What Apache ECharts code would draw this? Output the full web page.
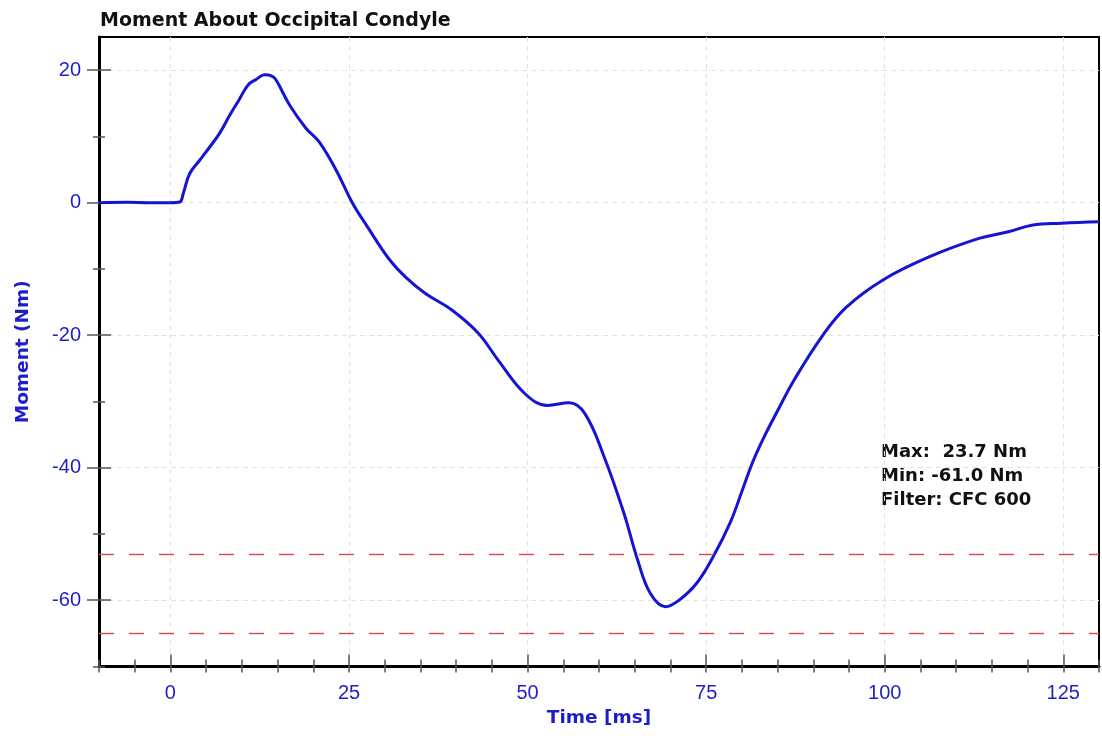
<!DOCTYPE html>
<html>
<head>
<meta charset="utf-8">
<script src="https://cdn.jsdelivr.net/npm/echarts@6/dist/echarts.min.js"></script>
<style>html,body{margin:0;padding:0;background:#fff;}#c{width:1102px;height:738px;}</style>
</head>
<body>
<div id="c"></div>
<script>
const titleText = 'Moment About Occipital Condyle';
const xName = 'Time [ms]';
const yName = 'Moment (Nm)';
const timeMs = [-10, -6, -3, 0, 1.3, 1.8, 2.7, 4.1, 5.5, 6.9, 8.3, 9.6, 10.9, 12.0, 13.2, 14.2, 14.8, 16.7, 19.0, 20.8, 23.2, 25.5, 27.5, 30.6, 33.0, 35.7, 39.4, 43.1, 45.9, 49.6, 52.8, 55.8, 58.0, 60.7, 63.5, 65.4, 67.2, 69.3, 71.2, 73.7, 76.0, 78.4, 80.0, 81.5, 83.0, 85.0, 87.4, 91.4, 94.6, 99.7, 106.2, 113.2, 117.3, 120.6, 124.8, 130];
const moment = [0, 0.05, 0, 0, 0.1, 1.4, 4.4, 6.4, 8.4, 10.5, 13.2, 15.5, 17.8, 18.6, 19.3, 19.1, 18.5, 14.7, 11.2, 9.2, 4.9, -0.1, -3.5, -8.5, -11.3, -13.7, -16.2, -19.7, -23.8, -28.8, -30.6, -30.2, -31.8, -38.3, -46.9, -53.9, -59.0, -61.0, -60.0, -57.4, -53.4, -48.2, -43.6, -39.2, -35.6, -31.4, -26.6, -19.9, -15.8, -11.7, -8.2, -5.4, -4.4, -3.4, -3.1, -2.9];
const thresholds = [-53, -65];
const majorX = [0, 25, 50, 75, 100, 125];
const majorY = [-60, -40, -20, 0, 20];
const minorY = [-70, -50, -30, -10, 10];
const statLines = ['Max:  23.7 Nm', 'Min: -61.0 Nm', 'Filter: CFC 600'];

const blue = '#1e1ec8';
const tickColor = '#555';
const gridColor = '#e2e2e2';
const xMin = -10, xMax = 130, yMin = -70, yMax = 25;

function xBase(extra) {
  return Object.assign({
    type: 'value', min: xMin, max: xMax, interval: 5, position: 'bottom', gridIndex: 0,
    axisLine: { show: false, onZero: false }, axisLabel: { show: false }, splitLine: { show: false },
    axisTick: { show: false }
  }, extra);
}
function yBase(extra) {
  return Object.assign({
    type: 'value', min: yMin, max: yMax, interval: 10, position: 'left', gridIndex: 0,
    axisLine: { show: false, onZero: false }, axisLabel: { show: false }, splitLine: { show: false },
    axisTick: { show: false }
  }, extra);
}

const chart = echarts.init(document.getElementById('c'), null, { renderer: 'canvas' });
chart.setOption({
  animation: false,
  backgroundColor: '#fff',
  title: {
    text: titleText, left: 95, top: 7,
    textStyle: { fontFamily: 'DejaVu Sans', fontWeight: 'bold', fontSize: 19, color: '#111' }
  },
  grid: {
    left: 99, top: 37, width: 1006, height: 629.5,
    show: true, borderColor: '#000', borderWidth: 2, backgroundColor: 'transparent'
  },
  xAxis: [
    xBase({
      axisLine: { show: true, onZero: false, lineStyle: { color: '#000', width: 3 } },
      axisTick: { show: true, inside: true, length: 7, lineStyle: { color: tickColor, width: 1.5 } },
      axisLabel: {
        show: true, margin: 17, fontFamily: 'Liberation Sans', fontSize: 20, color: blue,
        interval: 0, formatter: v => (majorX.indexOf(v) >= 0 ? String(v) : '')
      },
      splitLine: {
        show: true,
        lineStyle: { color: ['transparent', 'transparent', gridColor, 'transparent', 'transparent'], type: [5, 4], width: 1 }
      },
      name: xName, nameLocation: 'middle', nameGap: 42,
      nameTextStyle: { fontFamily: 'DejaVu Sans', fontWeight: 'bold', fontSize: 18.5, color: blue }
    }),
    xBase({
      axisTick: { show: true, inside: false, length: 6, lineStyle: { color: tickColor, width: 1.5 } }
    }),
    xBase({
      axisTick: { show: true, inside: true, length: 12, customValues: majorX, lineStyle: { color: tickColor, width: 1.5 } }
    })
  ],
  yAxis: [
    yBase({
      axisLine: { show: true, onZero: false, lineStyle: { color: '#000', width: 3 } },
      axisLabel: {
        show: true, margin: 18, fontFamily: 'Liberation Sans', fontSize: 20, color: blue,
        formatter: v => (majorY.indexOf(v) >= 0 ? String(v) : '')
      },
      splitLine: {
        show: true,
        lineStyle: { color: ['transparent', gridColor], type: [5, 4], width: 1 }
      },
      name: yName, nameLocation: 'middle', nameGap: 66,
      nameTextStyle: { fontFamily: 'DejaVu Sans', fontWeight: 'bold', fontSize: 18.5, color: blue }
    }),
    yBase({ axisTick: { show: true, inside: false, length: 6, customValues: minorY, lineStyle: { color: tickColor, width: 1.5 } } }),
    yBase({ axisTick: { show: true, inside: true, length: 6, customValues: minorY, lineStyle: { color: tickColor, width: 1.5 } } }),
    yBase({ axisTick: { show: true, inside: false, length: 12, customValues: majorY, lineStyle: { color: tickColor, width: 1.5 } } }),
    yBase({ axisTick: { show: true, inside: true, length: 12, customValues: majorY, lineStyle: { color: tickColor, width: 1.5 } } })
  ],
  graphic: [{
    type: 'text', left: 881, top: 440, silent: true,
    style: {
      text: statLines.join('\n'), fill: '#111', lineHeight: 24,
      font: 'bold 18px "DejaVu Sans"'
    }
  }],
  series: [{
    type: 'line', xAxisIndex: 0, yAxisIndex: 0,
    data: timeMs.map((t, i) => [t, moment[i]]),
    showSymbol: false, smooth: 0.4,
    lineStyle: { color: '#1414d2', width: 3 },
    itemStyle: { color: '#1414d2' },
    markLine: {
      silent: true, symbol: ['none', 'none'], label: { show: false },
      lineStyle: { color: '#d84848', type: [15, 15], width: 1.4 },
      data: thresholds.map(v => ({ yAxis: v }))
    }
  }]
});
</script>
</body>
</html>
